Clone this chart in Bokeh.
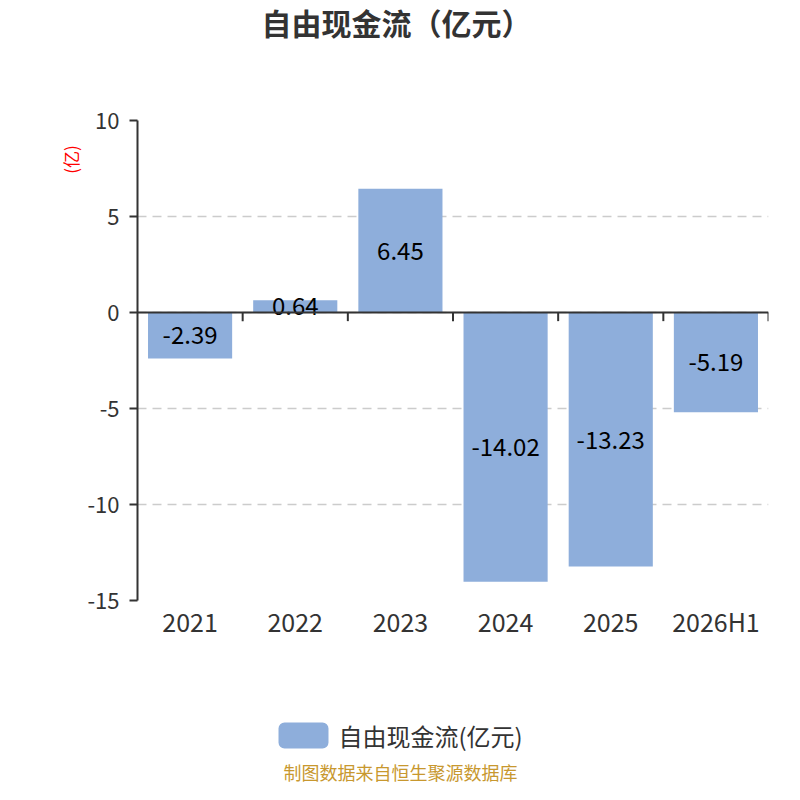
import math
from bokeh.plotting import figure
from bokeh.layouts import column, row
from bokeh.models import FixedTicker, Label, BoxAnnotation, Range1d, Span
from bokeh.core.properties import value
from bokeh.embed import file_html
from bokeh.resources import INLINE

categories = ["2021", "2022", "2023", "2024", "2025", "2026H1"]
values = [-2.39, 0.64, 6.45, -14.02, -13.23, -5.19]
labels = ["-2.39", "0.64", "6.45", "-14.02", "-13.23", "-5.19"]
y_ticks = [-15, -10, -5, 0, 5, 10]
y_tick_labels = ["-15", "-10", "-5", "0", "5", "10"]

FONT = "Noto Sans CJK SC"
BAR = "#8eaedb"
TXT = "#333333"


def blank(width, height):
    f = figure(width=width, height=height, output_backend="svg", toolbar_location=None,
               x_range=Range1d(0, width), y_range=Range1d(0, height),
               x_axis_type=None, y_axis_type=None,
               min_border_left=0, min_border_right=0, min_border_top=0,
               min_border_bottom=0)
    f.outline_line_color = None
    f.grid.grid_line_color = None
    return f


# ---- header with title
header = blank(784, 60)
header.add_layout(Label(x=396, y=60 - 21, x_units="screen", y_units="screen",
                        text="自由现金流（亿元）", text_font=FONT, text_font_size="30px",
                        text_font_style="bold", text_color=TXT, text_align="center",
                        text_baseline="middle"))

# ---- left strip with unit label
SW, SH = 84, 590
strip = blank(SW, SH)
strip.text(x=[70], y=[SH - 48], text=["(亿)"], text_font=value(FONT),
           text_font_size="17px", text_color="#ff0000", text_align="center",
           text_baseline="middle", angle=math.pi / 2)

# ---- main chart
xs = [i + 0.5 for i in range(len(categories))]

p = figure(width=700, height=590, output_backend="svg", toolbar_location=None,
           x_range=Range1d(0, len(categories)), y_range=Range1d(-15, 10),
           min_border_left=51, min_border_right=16, min_border_top=60,
           min_border_bottom=50)
p.outline_line_color = None

p.vbar(x=xs, top=values, bottom=0, width=0.8, fill_color=BAR, line_color=None)

p.text(x=xs, y=[v / 2 for v in values], text=labels, text_align="center",
       text_baseline="middle", text_font=value(FONT), text_font_size="24px",
       text_color="#000000")

# zero line and category boundary ticks
p.add_layout(Span(location=0, dimension="width", line_color=TXT, line_width=2))
bounds = list(range(1, len(categories) + 1))
p.segment(x0=bounds, y0=[0] * len(bounds), x1=bounds, y1=[-0.45] * len(bounds),
          line_color=TXT, line_width=2)

# x axis
p.xaxis.ticker = FixedTicker(ticks=xs)
p.xaxis.major_label_overrides = {x: c for x, c in zip(xs, categories)}
p.xaxis.axis_line_color = None
p.xaxis.major_tick_line_color = None
p.xaxis.minor_tick_line_color = None
p.xaxis.major_label_text_font = FONT
p.xaxis.major_label_text_font_size = "25px"
p.xaxis.major_label_text_color = TXT
p.xaxis.major_label_standoff = -4

# y axis
p.yaxis.ticker = FixedTicker(ticks=y_ticks)
p.yaxis.major_label_overrides = {t: s for t, s in zip(y_ticks, y_tick_labels)}
p.yaxis.axis_line_color = TXT
p.yaxis.axis_line_width = 2
p.yaxis.major_tick_line_color = TXT
p.yaxis.major_tick_line_width = 2
p.yaxis.major_tick_out = 8
p.yaxis.major_tick_in = 0
p.yaxis.minor_tick_line_color = None
p.yaxis.major_label_text_font = FONT
p.yaxis.major_label_text_font_size = "22px"
p.yaxis.major_label_text_color = TXT
p.yaxis.major_label_standoff = 10

p.xgrid.grid_line_color = None
p.ygrid.ticker = FixedTicker(ticks=y_ticks)
p.ygrid.grid_line_color = "#cccccc"
p.ygrid.grid_line_dash = "9 6"
p.ygrid.grid_line_width = 1.5

# ---- footer with legend and source
FH = 134
footer = blank(784, FH)
footer.add_layout(BoxAnnotation(left=278, right=328, top=FH - 72, bottom=FH - 98,
                                left_units="screen", right_units="screen",
                                top_units="screen", bottom_units="screen",
                                fill_color=BAR, fill_alpha=1, line_color=None,
                                border_radius=6))
footer.add_layout(Label(x=338, y=FH - 85, x_units="screen", y_units="screen",
                        text="自由现金流(亿元)", text_font=FONT, text_font_size="24px",
                        text_color=TXT, text_align="left", text_baseline="middle"))
footer.add_layout(Label(x=400, y=FH - 121, x_units="screen", y_units="screen",
                        text="制图数据来自恒生聚源数据库", text_font=FONT,
                        text_font_size="18px", text_color="#c8982f",
                        text_align="center", text_baseline="middle"))

layout = column(header, row(strip, p), footer)
open("out.html", "w").write(file_html(layout, INLINE))
